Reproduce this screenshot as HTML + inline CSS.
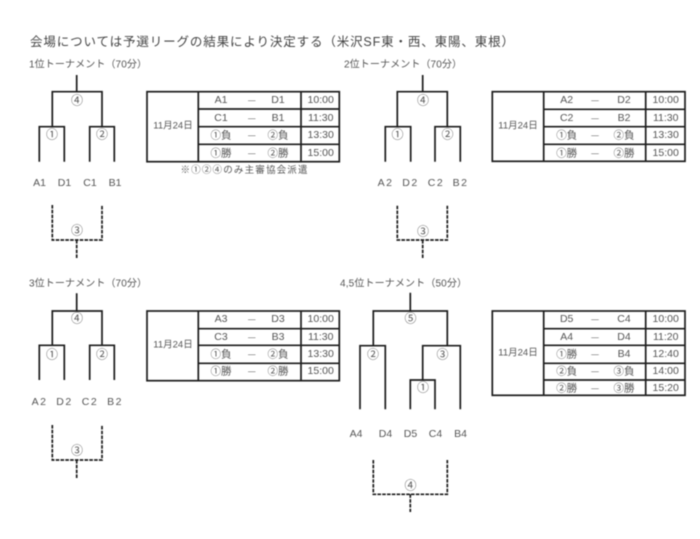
<!DOCTYPE html>
<html lang="ja"><head><meta charset="utf-8"><style>
html,body{margin:0;padding:0;background:#fff;width:700px;height:539px;overflow:hidden}
svg{display:block;filter:blur(.45px)}
text{font-family:"Liberation Sans","Noto Sans CJK JP",sans-serif;fill:#555;font-size:10.5px;text-anchor:middle;dominant-baseline:central}
.h{text-anchor:start;font-size:10px}
.t{text-anchor:start;font-size:12.5px;fill:#444}
.d{font-size:9.5px}
.l{font-size:10.5px}
.c{font-size:12px;font-family:"Noto Sans CJK JP",sans-serif}
.j{font-size:10.5px;font-family:"Noto Sans CJK JP",sans-serif}
.n{font-size:9.5px;font-family:"Noto Sans CJK JP",sans-serif}
.m{font-size:7.5px}
path,rect{fill:none;stroke:#1c1c1c;stroke-width:1.7}
.da{stroke-dasharray:3.6 1.2}
</style></head><body>
<svg width="700" height="539" viewBox="0 0 700 539" xmlns="http://www.w3.org/2000/svg">
<text class="t" x="30" y="42" textLength="484" lengthAdjust="spacing">会場については予選リーグの結果により決定する（米沢SF東・西、東陽、東根）</text>
<text class="h" x="29" y="65" textLength="118">1位トーナメント（70分）</text>
<text class="h" x="344" y="65" textLength="118">2位トーナメント（70分）</text>
<text class="h" x="29" y="284" textLength="118">3位トーナメント（70分）</text>
<text class="h" x="340" y="284" textLength="127">4,5位トーナメント（50分）</text>

<!-- bracket 1 -->
<path d="M76.7 75V91.7M52.3 126.7V91.7H102V126.7M39.3 161.7V126.7H64.3V161.7M89.7 161.7V126.7H114.3V161.7"/>
<path class="da" d="M52.3 205V240H102V205M76.7 240V258"/>
<text class="c" x="77" y="100">④</text><text class="c" x="52" y="134">①</text><text class="c" x="102" y="134">②</text><text class="c" x="77" y="230">③</text>
<text class="l" x="39.5" y="183">A1</text><text class="l" x="64.5" y="183">D1</text><text class="l" x="90" y="183">C1</text><text class="l" x="115" y="183">B1</text>

<!-- table 1 -->
<rect x="147" y="91.7" width="192.3" height="70"/>
<path d="M198.3 91.7V161.7M301 91.7V161.7M198.3 109H339.3M198.3 126.7H339.3M198.3 144.3H339.3"/>
<text class="d" x="173" y="126">11月24日</text>
<text x="221" y="100">A1</text><text class="m" x="251.7" y="100">—</text><text x="278" y="100">D1</text><text x="320.7" y="100">10:00</text>
<text x="221" y="118">C1</text><text class="m" x="251.7" y="118">—</text><text x="278" y="118">B1</text><text x="320.7" y="118">11:30</text>
<text class="j" x="221" y="135">①負</text><text class="m" x="251.7" y="135">—</text><text class="j" x="278" y="135">②負</text><text x="320.7" y="135">13:30</text>
<text class="j" x="221" y="153">①勝</text><text class="m" x="251.7" y="153">—</text><text class="j" x="278" y="153">②勝</text><text x="320.7" y="153">15:00</text>
<text class="n" x="244" y="169" textLength="127">※①②④のみ主審協会派遣</text>

<!-- bracket 2 -->
<path d="M422.7 75V91.7M397.3 126.7V91.7H447.3V126.7M385.3 161.7V126.7H410.7V161.7M435 161.7V126.7H460.3V161.7"/>
<path class="da" d="M397.3 205.7V240H447.3V205.7M422.7 240V258"/>
<text class="c" x="423" y="100">④</text><text class="c" x="397.5" y="134">①</text><text class="c" x="447.5" y="134">②</text><text class="c" x="423" y="231">③</text>
<text class="l" x="385.5" y="183" letter-spacing="1.5">A2</text><text class="l" x="410.5" y="183" letter-spacing="1.5">D2</text><text class="l" x="436" y="183" letter-spacing="1.5">C2</text><text class="l" x="460.5" y="183" letter-spacing="1.5">B2</text>

<!-- table 2 -->
<rect x="492.3" y="91.7" width="192.7" height="69.6"/>
<path d="M543.7 91.7V161.3M645.7 91.7V161.3M543.7 109.3H685M543.7 126.7H685M543.7 144.3H685"/>
<text class="d" x="518" y="126">11月24日</text>
<text x="566.7" y="100">A2</text><text class="m" x="595" y="100">—</text><text x="624" y="100">D2</text><text x="665.7" y="100">10:00</text>
<text x="566.7" y="118">C2</text><text class="m" x="595" y="118">—</text><text x="624" y="118">B2</text><text x="665.7" y="118">11:30</text>
<text class="j" x="566.7" y="135">①負</text><text class="m" x="595" y="135">—</text><text class="j" x="624" y="135">②負</text><text x="665.7" y="135">13:30</text>
<text class="j" x="566.7" y="153">①勝</text><text class="m" x="595" y="153">—</text><text class="j" x="624" y="153">②勝</text><text x="665.7" y="153">15:00</text>

<!-- bracket 3 -->
<path d="M76.7 293.3V311M52.3 345.3V311H102V345.3M39.3 380V345.3H64.3V380M89.7 380V345.3H114.3V380"/>
<path class="da" d="M52.3 425V460H102V425M76.7 460V478"/>
<text class="c" x="77" y="318">④</text><text class="c" x="52" y="354">①</text><text class="c" x="102" y="354">②</text><text class="c" x="77" y="450">③</text>
<text class="l" x="39.5" y="402" letter-spacing="1.5">A2</text><text class="l" x="64.5" y="402" letter-spacing="1.5">D2</text><text class="l" x="90" y="402" letter-spacing="1.5">C2</text><text class="l" x="115" y="402" letter-spacing="1.5">B2</text>

<!-- table 3 -->
<rect x="147" y="311" width="192.3" height="69.7"/>
<path d="M198.3 311V380.7M301 311V380.7M198.3 328.7H339.3M198.3 345.3H339.3M198.3 363.3H339.3"/>
<text class="d" x="173" y="345">11月24日</text>
<text x="221" y="319">A3</text><text class="m" x="251.7" y="319">—</text><text x="278" y="319">D3</text><text x="320.7" y="319">10:00</text>
<text x="221" y="337">C3</text><text class="m" x="251.7" y="337">—</text><text x="278" y="337">B3</text><text x="320.7" y="337">11:30</text>
<text class="j" x="221" y="354">①負</text><text class="m" x="251.7" y="354">—</text><text class="j" x="278" y="354">②負</text><text x="320.7" y="354">13:30</text>
<text class="j" x="221" y="371">①勝</text><text class="m" x="251.7" y="371">—</text><text class="j" x="278" y="371">②勝</text><text x="320.7" y="371">15:00</text>

<!-- bracket 4 -->
<path d="M410.3 292.7V311M373.3 345.7V311H447.3V345.7M360 409.3V345.7H385.3V409.3M422.7 380V345.7H460.3V409.3M410.3 409.3V380H435V409.3"/>
<path class="da" d="M373.3 460V494.3H447.3V460M410.3 494.3V512"/>
<text class="c" x="410.5" y="318">⑤</text><text class="c" x="373" y="354">②</text><text class="c" x="442.5" y="354">③</text><text class="c" x="423" y="387">①</text><text class="c" x="410.5" y="485">④</text>
<text class="l" x="356" y="434">A4</text><text class="l" x="385.5" y="434">D4</text><text class="l" x="410.5" y="434">D5</text><text class="l" x="435.5" y="434">C4</text><text class="l" x="460.5" y="434">B4</text>

<!-- table 4 -->
<rect x="492.3" y="311" width="192.7" height="84.3"/>
<path d="M543.7 311V395.3M645.7 311V395.3M543.7 328.7H685M543.7 345.3H685M543.7 363.3H685M543.7 380H685"/>
<text class="d" x="518" y="353">11月24日</text>
<text x="566.7" y="319">D5</text><text class="m" x="595" y="319">—</text><text x="624" y="319">C4</text><text x="665.7" y="319">10:00</text>
<text x="566.7" y="337">A4</text><text class="m" x="595" y="337">—</text><text x="624" y="337">D4</text><text x="665.7" y="337">11:20</text>
<text class="j" x="566.7" y="354">①勝</text><text class="m" x="595" y="354">—</text><text x="624" y="354">B4</text><text x="665.7" y="354">12:40</text>
<text class="j" x="566.7" y="371">②負</text><text class="m" x="595" y="371">—</text><text class="j" x="624" y="371">③負</text><text x="665.7" y="371">14:00</text>
<text class="j" x="566.7" y="388">②勝</text><text class="m" x="595" y="388">—</text><text class="j" x="624" y="388">③勝</text><text x="665.7" y="388">15:20</text>
</svg>
</body></html>
